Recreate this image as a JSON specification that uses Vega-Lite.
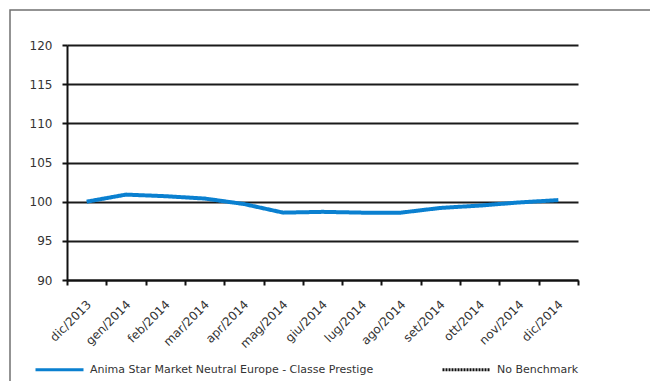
{
  "$schema": "https://vega.github.io/schema/vega-lite/v6.json",
  "width": 645,
  "height": 376,
  "autosize": {"type": "none"},
  "padding": {"left": 10, "top": 10, "right": -5, "bottom": -5},
  "background": "white",
  "config": {
    "view": {"stroke": "#707070", "strokeWidth": 1.5},
    "font": "DejaVu Sans"
  },
  "data": {
    "values": [
      {"month": "dic/2013", "value": 100.0, "series": "Anima Star Market Neutral Europe  - Classe Prestige"},
      {"month": "gen/2014", "value": 100.9, "series": "Anima Star Market Neutral Europe  - Classe Prestige"},
      {"month": "feb/2014", "value": 100.7, "series": "Anima Star Market Neutral Europe  - Classe Prestige"},
      {"month": "mar/2014", "value": 100.4, "series": "Anima Star Market Neutral Europe  - Classe Prestige"},
      {"month": "apr/2014", "value": 99.7, "series": "Anima Star Market Neutral Europe  - Classe Prestige"},
      {"month": "mag/2014", "value": 98.6, "series": "Anima Star Market Neutral Europe  - Classe Prestige"},
      {"month": "giu/2014", "value": 98.7, "series": "Anima Star Market Neutral Europe  - Classe Prestige"},
      {"month": "lug/2014", "value": 98.6, "series": "Anima Star Market Neutral Europe  - Classe Prestige"},
      {"month": "ago/2014", "value": 98.6, "series": "Anima Star Market Neutral Europe  - Classe Prestige"},
      {"month": "set/2014", "value": 99.2, "series": "Anima Star Market Neutral Europe  - Classe Prestige"},
      {"month": "ott/2014", "value": 99.5, "series": "Anima Star Market Neutral Europe  - Classe Prestige"},
      {"month": "nov/2014", "value": 99.9, "series": "Anima Star Market Neutral Europe  - Classe Prestige"},
      {"month": "dic/2014", "value": 100.2, "series": "Anima Star Market Neutral Europe  - Classe Prestige"}
    ]
  },
  "mark": {"type": "line", "strokeJoin": "round", "strokeCap": "butt"},
  "encoding": {
    "x": {
      "field": "month",
      "type": "nominal",
      "sort": null,
      "bandPosition": 0.5,
      "scale": {"type": "band", "range": [57, 568], "paddingInner": 0, "paddingOuter": 0},
      "axis": {
        "title": null,
        "orient": "bottom",
        "offset": -106,
        "grid": false,
        "tickBand": "extent",
        "domainColor": "#111111",
        "domainWidth": 2,
        "tickColor": "#111111",
        "tickWidth": 2,
        "tickSize": 5,
        "labelAngle": -45,
        "labelAlign": "right",
        "labelBaseline": "middle",
        "labelPadding": 17,
        "labelOffset": 2,
        "labelFontSize": 12,
        "labelColor": "#333333",
        "labelFont": "DejaVu Sans"
      }
    },
    "y": {
      "field": "value",
      "type": "quantitative",
      "scale": {"domain": [90, 120], "range": [270, 35], "nice": false, "zero": false},
      "axis": {
        "title": null,
        "orient": "left",
        "offset": -57,
        "values": [90, 95, 100, 105, 110, 115, 120],
        "grid": true,
        "gridColor": "#1a1a1a",
        "gridWidth": 2,
        "gridOpacity": 1,
        "domainColor": "#111111",
        "domainWidth": 2,
        "tickColor": "#111111",
        "tickWidth": 2,
        "tickSize": 5,
        "labelPadding": 10,
        "labelFontSize": 12,
        "labelColor": "#333333",
        "labelFont": "DejaVu Sans"
      }
    },
    "color": {
      "field": "series",
      "type": "nominal",
      "scale": {
        "domain": ["Anima Star Market Neutral Europe  - Classe Prestige", "No Benchmark"],
        "range": ["#0A80D0", "#111111"]
      },
      "legend": {
        "title": null,
        "orient": "none",
        "legendX": 24,
        "legendY": 334,
        "direction": "horizontal",
        "columns": 2,
        "columnPadding": 59,
        "symbolType": "stroke",
        "symbolSize": 2304,
        "symbolStrokeWidth": 3,
        "labelFontSize": 11,
        "labelColor": "#333333",
        "labelFont": "DejaVu Sans",
        "labelOffset": 5,
        "labelLimit": 400
      }
    },
    "strokeDash": {
      "field": "series",
      "type": "nominal",
      "scale": {
        "domain": ["Anima Star Market Neutral Europe  - Classe Prestige", "No Benchmark"],
        "range": [[1, 0], [2, 1]]
      },
      "legend": {
        "title": null,
        "orient": "none",
        "legendX": 24,
        "legendY": 334,
        "direction": "horizontal",
        "columns": 2,
        "columnPadding": 59,
        "symbolType": "stroke",
        "symbolSize": 2304,
        "symbolStrokeWidth": 3,
        "labelFontSize": 11,
        "labelColor": "#333333",
        "labelFont": "DejaVu Sans",
        "labelOffset": 5,
        "labelLimit": 400
      }
    },
    "strokeWidth": {"value": 4}
  }
}
